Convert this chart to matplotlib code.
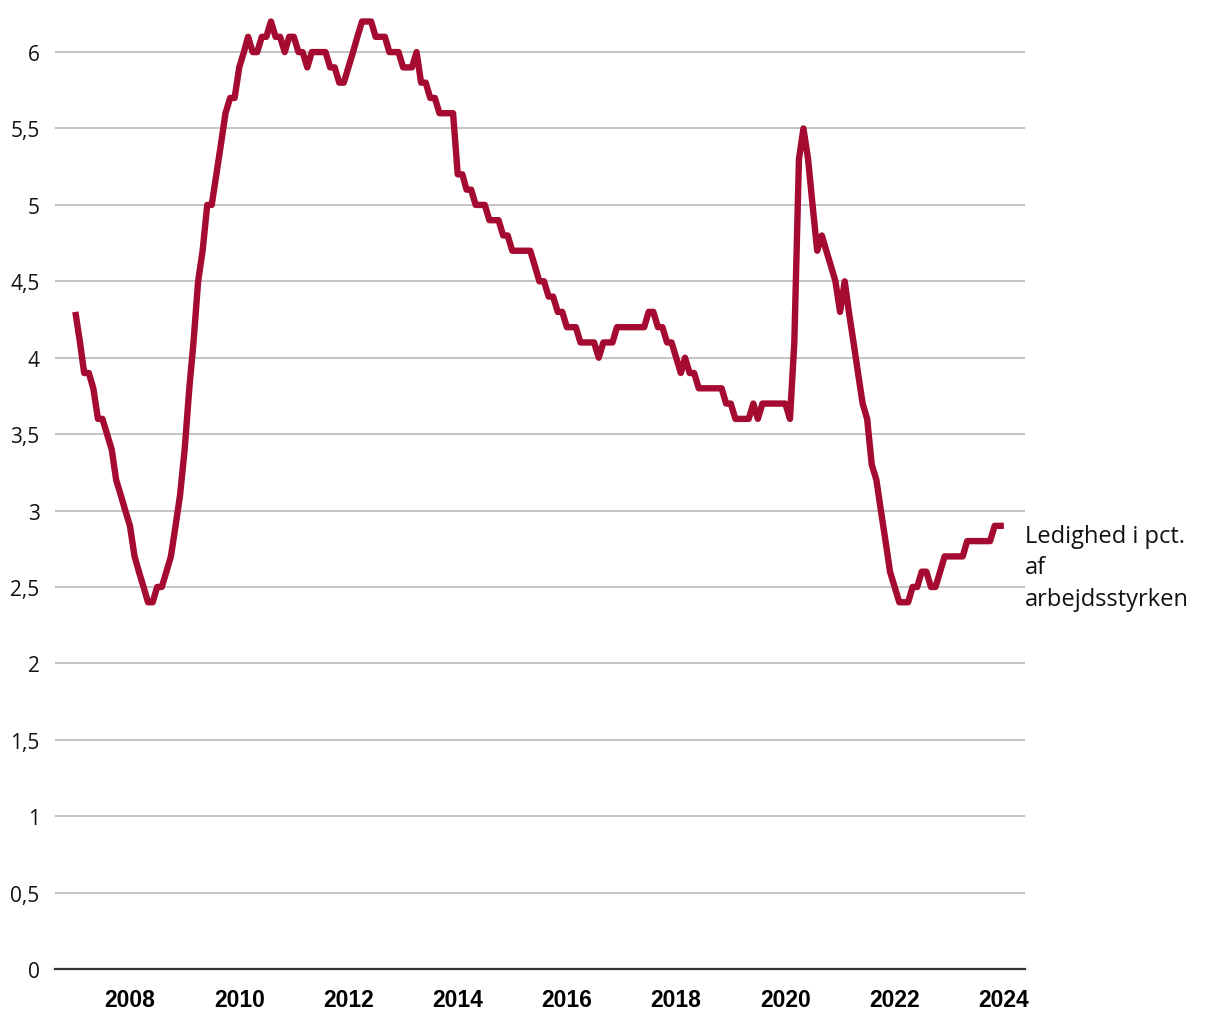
import numpy as np
import pandas as pd
import matplotlib
matplotlib.use("Agg")
import matplotlib.pyplot as plt
import matplotlib.transforms as mtransforms

# --- data: ledighed i pct. af arbejdsstyrken, maanedlig jan 2007 - jan 2024 ---
ledighed = [
    # 2007
    4.3, 4.1, 3.9, 3.9, 3.8, 3.6, 3.6, 3.5, 3.4, 3.2, 3.1, 3.0,
    # 2008
    2.9, 2.7, 2.6, 2.5, 2.4, 2.4, 2.5, 2.5, 2.6, 2.7, 2.9, 3.1,
    # 2009
    3.4, 3.8, 4.1, 4.5, 4.7, 5.0, 5.0, 5.2, 5.4, 5.6, 5.7, 5.7,
    # 2010
    5.9, 6.0, 6.1, 6.0, 6.0, 6.1, 6.1, 6.2, 6.1, 6.1, 6.0, 6.1,
    # 2011
    6.1, 6.0, 6.0, 5.9, 6.0, 6.0, 6.0, 6.0, 5.9, 5.9, 5.8, 5.8,
    # 2012
    5.9, 6.0, 6.1, 6.2, 6.2, 6.2, 6.1, 6.1, 6.1, 6.0, 6.0, 6.0,
    # 2013
    5.9, 5.9, 5.9, 6.0, 5.8, 5.8, 5.7, 5.7, 5.6, 5.6, 5.6, 5.6,
    # 2014
    5.2, 5.2, 5.1, 5.1, 5.0, 5.0, 5.0, 4.9, 4.9, 4.9, 4.8, 4.8,
    # 2015
    4.7, 4.7, 4.7, 4.7, 4.7, 4.6, 4.5, 4.5, 4.4, 4.4, 4.3, 4.3,
    # 2016
    4.2, 4.2, 4.2, 4.1, 4.1, 4.1, 4.1, 4.0, 4.1, 4.1, 4.1, 4.2,
    # 2017
    4.2, 4.2, 4.2, 4.2, 4.2, 4.2, 4.3, 4.3, 4.2, 4.2, 4.1, 4.1,
    # 2018
    4.0, 3.9, 4.0, 3.9, 3.9, 3.8, 3.8, 3.8, 3.8, 3.8, 3.8, 3.7,
    # 2019
    3.7, 3.6, 3.6, 3.6, 3.6, 3.7, 3.6, 3.7, 3.7, 3.7, 3.7, 3.7,
    # 2020
    3.7, 3.6, 4.1, 5.3, 5.5, 5.3, 5.0, 4.7, 4.8, 4.7, 4.6, 4.5,
    # 2021
    4.3, 4.5, 4.3, 4.1, 3.9, 3.7, 3.6, 3.3, 3.2, 3.0, 2.8, 2.6,
    # 2022
    2.5, 2.4, 2.4, 2.4, 2.5, 2.5, 2.6, 2.6, 2.5, 2.5, 2.6, 2.7,
    # 2023
    2.7, 2.7, 2.7, 2.7, 2.8, 2.8, 2.8, 2.8, 2.8, 2.8, 2.9, 2.9,
    # 2024
    2.9,
]
maaneder = pd.date_range("2007-01-01", periods=len(ledighed), freq="MS")

x_ticks = [pd.Timestamp(f"{aar}-01-01") for aar in range(2008, 2025, 2)]
x_ticklabels = [str(aar) for aar in range(2008, 2025, 2)]
y_ticks = [0, 0.5, 1, 1.5, 2, 2.5, 3, 3.5, 4, 4.5, 5, 5.5, 6]
y_ticklabels = ["0", "0,5", "1", "1,5", "2", "2,5", "3", "3,5", "4", "4,5", "5", "5,5", "6"]
serie_navn = "Ledighed i pct.\naf\narbejdsstyrken"

farve = "#a50b30"

fig = plt.figure(figsize=(12.2, 10.2), dpi=100)
ax = fig.add_axes([0.0451, 0.049, 0.7951, 0.9439])

ax.plot(maaneder, ledighed, color=farve, lw=4.6, solid_joinstyle="round",
        solid_capstyle="butt", zorder=3)

ax.set_xlim(pd.Timestamp("2006-08-18"), pd.Timestamp("2024-05-22"))
ax.set_ylim(0, 6.3)

ax.set_yticks(y_ticks)
ax.set_yticklabels(y_ticklabels, family="Open Sans", fontsize=15, color="#111111")
ax.set_xticks(x_ticks)
ax.set_xticklabels(x_ticklabels, family="Liberation Sans", fontweight="bold",
                   fontsize=16.5, color="#000000")
ax.tick_params(axis="y", length=0, pad=11)
ax.tick_params(axis="x", length=0, pad=14)

ax.grid(axis="y", color="#c4c4c4", lw=1.4, zorder=0)
ax.grid(axis="x", visible=False)
for side in ["top", "right", "left"]:
    ax.spines[side].set_visible(False)
ax.spines["bottom"].set_color("#333333")
ax.spines["bottom"].set_linewidth(1.6)
ax.spines["bottom"].set_zorder(4)

trans = mtransforms.blended_transform_factory(ax.transAxes, ax.transData)
ax.text(1.0, 2.915, serie_navn, transform=trans, ha="left", va="top",
        family="Open Sans", fontsize=17, color="#111111", linespacing=1.42,
        clip_on=False)

fig.savefig("out.png", dpi=100, facecolor="white")
